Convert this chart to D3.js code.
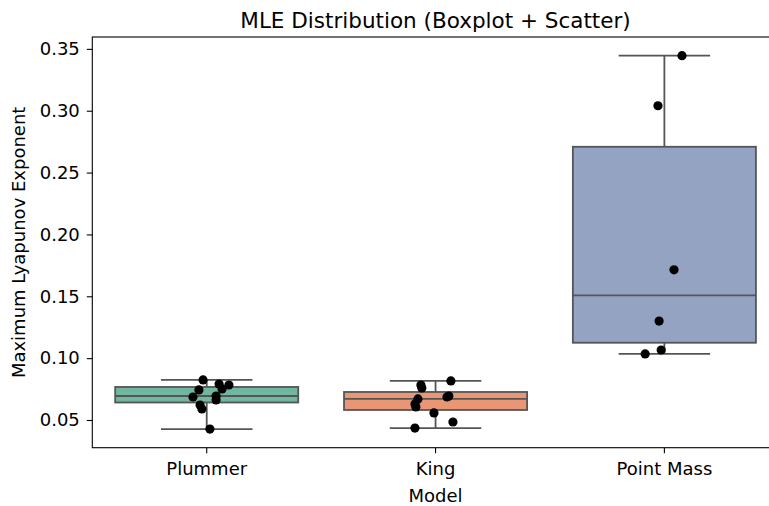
<!DOCTYPE html>
<html>
<head>
<meta charset="utf-8">
<script src="https://cdnjs.cloudflare.com/ajax/libs/d3/7.8.5/d3.min.js"></script>
<style>
    body { margin: 0; background: #fff; }
    text { font-family: "DejaVu Sans", sans-serif; fill: #000; }
</style>
</head>
<body>
<div id="chart"></div>
<script>
'use strict';

// categories and colours
const models = ['Plummer', 'King', 'Point Mass'];
const boxColors = ['#71b6a1', '#e99675', '#95a3c3'];

// MLE values per model
const plummerValues = [0.0824, 0.0791, 0.0783, 0.0743, 0.0751, 0.0686, 0.0662, 0.0694, 0.0621, 0.0589, 0.0427];
const kingValues = [0.0783, 0.0759, 0.0816, 0.0694, 0.0686, 0.0670, 0.0629, 0.0605, 0.0557, 0.0484, 0.0435];
const pointMassValues = [0.3445, 0.3040, 0.1714, 0.1300, 0.1066, 0.1034];

// horizontal jitter of each dot, in category widths
const plummerJitter = [-0.016, 0.054, 0.097, -0.034, 0.067, -0.060, 0.041, 0.041, -0.029, -0.021, 0.014];
const kingJitter = [-0.064, -0.060, 0.067, 0.058, 0.050, -0.077, -0.090, -0.086, -0.007, 0.076, -0.090];
const pointMassJitter = [0.077, -0.028, 0.042, -0.023, -0.014, -0.084];

const yTicks = [0.05, 0.10, 0.15, 0.20, 0.25, 0.30, 0.35];

const groups = [
    {name: models[0], values: plummerValues, jitter: plummerJitter, color: boxColors[0]},
    {name: models[1], values: kingValues, jitter: kingJitter, color: boxColors[1]},
    {name: models[2], values: pointMassValues, jitter: pointMassJitter, color: boxColors[2]}
];

var W = 769, H = 506;
var margin = {top: 37, left: 92.3, bottom: 447.7, right: 778.8};
var lineColor = '#555';

var svg = d3.select('#chart').append('svg')
    .attr('width', W)
    .attr('height', H);

// scales
var x = d3.scaleBand()
    .domain(models)
    .range([margin.left, margin.right])
    .padding(0);

var allValues = [].concat(plummerValues, kingValues, pointMassValues);
var ext = d3.extent(allValues);
var pad = (ext[1] - ext[0]) * 0.05;
var y = d3.scaleLinear()
    .domain([ext[0] - pad, ext[1] + pad])
    .range([margin.bottom, margin.top]);

var bw = x.bandwidth();

// boxes
groups.forEach(function (g) {
    var sorted = g.values.slice().sort(d3.ascending);
    var q1 = d3.quantile(sorted, 0.25),
        med = d3.quantile(sorted, 0.5),
        q3 = d3.quantile(sorted, 0.75),
        lo = sorted[0],
        hi = sorted[sorted.length - 1];
    var cx = x(g.name) + bw / 2;
    var boxW = bw * 0.8, capW = bw * 0.4;

    var gg = svg.append('g');
    // whiskers
    gg.append('line')
        .attr('x1', cx).attr('x2', cx)
        .attr('y1', y(q3)).attr('y2', y(hi))
        .attr('stroke', lineColor).attr('stroke-width', 1.8);
    gg.append('line')
        .attr('x1', cx).attr('x2', cx)
        .attr('y1', y(q1)).attr('y2', y(lo))
        .attr('stroke', lineColor).attr('stroke-width', 1.8);
    [lo, hi].forEach(function (v) {
        gg.append('line')
            .attr('x1', cx - capW / 2).attr('x2', cx + capW / 2)
            .attr('y1', y(v)).attr('y2', y(v))
            .attr('stroke', lineColor).attr('stroke-width', 1.8);
    });
    // box
    gg.append('rect')
        .attr('x', cx - boxW / 2)
        .attr('y', y(q3))
        .attr('width', boxW)
        .attr('height', y(q1) - y(q3))
        .attr('fill', g.color)
        .attr('stroke', lineColor)
        .attr('stroke-width', 1.8);
    // median
    gg.append('line')
        .attr('x1', cx - boxW / 2).attr('x2', cx + boxW / 2)
        .attr('y1', y(med)).attr('y2', y(med))
        .attr('stroke', lineColor).attr('stroke-width', 1.8);

    // scatter points
    gg.selectAll('circle')
        .data(g.values)
        .enter().append('circle')
        .attr('cx', function (d, i) { return cx + g.jitter[i] * bw; })
        .attr('cy', function (d) { return y(d); })
        .attr('r', 4.6)
        .attr('fill', '#000');
});

// spines
svg.append('rect')
    .attr('x', margin.left)
    .attr('y', margin.top)
    .attr('width', margin.right - margin.left)
    .attr('height', margin.bottom - margin.top)
    .attr('fill', 'none')
    .attr('stroke', '#000')
    .attr('stroke-width', 1.1);

// y axis
var yAxis = svg.append('g')
    .attr('transform', 'translate(' + margin.left + ',0)')
    .call(d3.axisLeft(y).tickValues(yTicks).tickFormat(d3.format('.2f')).tickSize(5.5).tickPadding(7));
yAxis.select('.domain').remove();
yAxis.selectAll('text').style('font-size', '18px').style('font-family', '"DejaVu Sans", sans-serif');
yAxis.selectAll('line').attr('stroke', '#000').attr('stroke-width', 1.1);

// x axis
var xAxis = svg.append('g')
    .attr('transform', 'translate(0,' + margin.bottom + ')')
    .call(d3.axisBottom(x).tickSize(5.5).tickPadding(9.5));
xAxis.select('.domain').remove();
xAxis.selectAll('text').style('font-size', '18px').style('font-family', '"DejaVu Sans", sans-serif');
xAxis.selectAll('line').attr('stroke', '#000').attr('stroke-width', 1.1);

// labels
var midX = (margin.left + margin.right) / 2;
svg.append('text')
    .attr('x', midX)
    .attr('y', 28)
    .attr('text-anchor', 'middle')
    .style('font-size', '21.5px')
    .text('MLE Distribution (Boxplot + Scatter)');

svg.append('text')
    .attr('x', midX)
    .attr('y', 502)
    .attr('text-anchor', 'middle')
    .style('font-size', '18px')
    .text('Model');

svg.append('text')
    .attr('transform', 'translate(25,' + ((margin.top + margin.bottom) / 2) + ') rotate(-90)')
    .attr('text-anchor', 'middle')
    .style('font-size', '18px')
    .text('Maximum Lyapunov Exponent');
</script>
</body>
</html>
